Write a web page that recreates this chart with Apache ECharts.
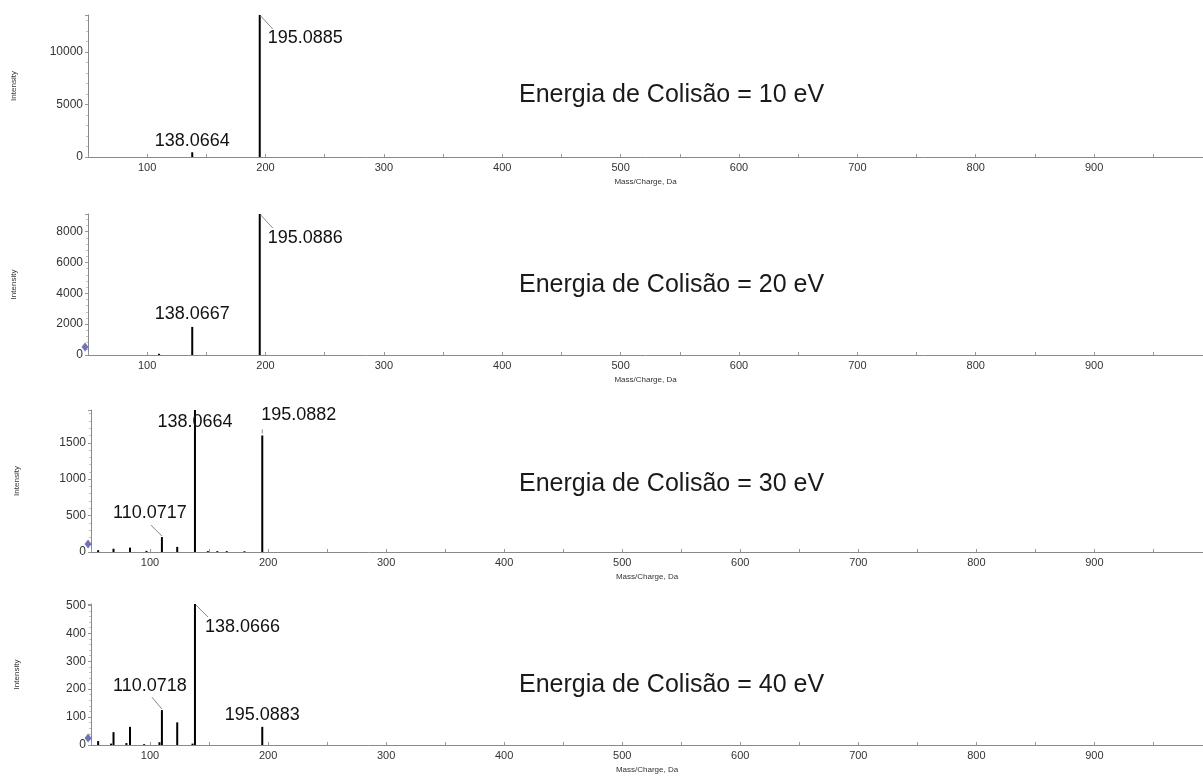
<!DOCTYPE html>
<html>
<head>
<meta charset="utf-8">
<script src="https://cdn.jsdelivr.net/npm/echarts@6/dist/echarts.min.js"></script>
<style>
html,body{margin:0;padding:0;background:#fff;}
#chart{width:1203px;height:778px;}
</style>
</head>
<body>
<div id="chart"></div>
<script>
// ---- Data ----
const energies = ['10', '20', '30', '40'];
const titleText = e => 'Energia de Colisão = ' + e + ' eV';

const mz10 = [138.0664, 195.0885];
const int10 = [450, 13500];
const mz20 = [110.07, 138.0667, 195.0886];
const int20 = [80, 1820, 9150];
const mz30 = [56.05, 69.07, 83.06, 97.0, 110.0717, 123.04, 138.0664, 149.0, 157.0, 165.0, 180.0, 195.0882];
const int30 = [25, 45, 60, 15, 205, 70, 1950, 12, 12, 12, 10, 1600];
const mz40 = [56.05, 67.0, 69.07, 80.0, 83.06, 95.0, 108.0, 110.0718, 123.04, 136.0, 138.0666, 195.0883];
const int40 = [14, 5, 46, 7, 65, 3, 10, 125, 81, 5, 505, 65];

// labelled peaks (m/z)
const ann10 = [138.0664, 195.0885];
const ann20 = [138.0667, 195.0886];
const ann30 = [110.0717, 138.0664, 195.0882];
const ann40 = [110.0718, 138.0666, 195.0883];

// precursor marker (blue diamond)
const marker20 = [[47.5, 520]];
const marker30 = [[47.5, 110]];
const marker40 = [[47.5, 25]];

const yIntervals = [5000, 2000, 500, 100];
const xTickValues = [100, 200, 300, 400, 500, 600, 700, 800, 900];
const xMin = 50, xMax = 992;

// ---- Layout / style ----
const grids = [
  {left: 88, right: 0, top: 15, height: 142},
  {left: 88, right: 0, top: 214, height: 141},
  {left: 91, right: 0, top: 410, height: 142},
  {left: 91, right: 0, top: 604, height: 141}
];
const titleTops = [78, 268, 467, 668];
const annLayout = [
  [ {dx: 0, dy: -11, align: 'center'},
    {dx: 8, dy: 23, align: 'left', line: [1, 1, 13, 14]} ],
  [ {dx: 0, dy: -13, align: 'center'},
    {dx: 8, dy: 24, align: 'left', line: [1, 1, 13, 14]} ],
  [ {dx: -12, dy: -24, align: 'center', line: [-11, -12, 0, -1]},
    {dx: 0, dy: 12, align: 'center'},
    {dx: -1, dy: -20, align: 'left', line: [0, -6, 0, -2]} ],
  [ {dx: -12, dy: -24, align: 'center', line: [-10, -13, 0, -1]},
    {dx: 10, dy: 23, align: 'left', line: [1, 1, 13, 13]},
    {dx: 0, dy: -12, align: 'center'} ]
];

const mzs = [mz10, mz20, mz30, mz40];
const ints = [int10, int20, int30, int40];
const anns = [ann10, ann20, ann30, ann40];
const markers = [null, marker20, marker30, marker40];

const FONT = '"Liberation Sans", Arial, sans-serif';

const chart = echarts.init(document.getElementById('chart'), null, {renderer: 'canvas'});

const option = {
  animation: false,
  backgroundColor: '#fff',
  title: energies.map((e, i) => ({
    text: titleText(e),
    left: 514,
    top: titleTops[i],
    textStyle: {fontFamily: FONT, fontSize: 25, fontWeight: 'normal', color: '#1a1a1a'}
  })),
  grid: grids,
  xAxis: grids.map((g, i) => ({
    gridIndex: i,
    type: 'value',
    min: xMin,
    max: xMax,
    interval: 50,
    name: 'Mass/Charge, Da',
    nameLocation: 'middle',
    nameGap: 21,
    nameTextStyle: {fontFamily: FONT, fontSize: 8, color: '#333'},
    axisLine: {lineStyle: {color: '#8a8a8a', width: 1}},
    axisTick: {inside: true, length: 3, lineStyle: {color: '#999'}},
    axisLabel: {
      fontFamily: FONT, fontSize: 11, color: '#333', margin: 5,
      showMaxLabel: false,
      formatter: v => (xTickValues.indexOf(v) >= 0 ? String(v) : '')
    },
    splitLine: {show: false}
  })),
  yAxis: grids.map((g, i) => ({
    gridIndex: i,
    type: 'value',
    min: 0,
    max: Math.max.apply(null, ints[i]),
    interval: yIntervals[i],
    name: 'Intensity',
    nameLocation: 'middle',
    nameGap: 70,
    nameTextStyle: {fontFamily: FONT, fontSize: 8, color: '#333'},
    axisLine: {show: true, lineStyle: {color: '#8a8a8a', width: 1}},
    axisTick: {show: true, length: 3, lineStyle: {color: '#999'}},
    minorTick: {show: true, splitNumber: 5, length: 2, lineStyle: {color: '#c4c4c4'}},
    axisLabel: {fontFamily: FONT, fontSize: 12, color: '#333', margin: 5, showMaxLabel: false,
      formatter: v => String(v)},
    splitLine: {show: false}
  })),
  series: []
};

for (let i = 0; i < 4; i++) {
  // stems
  option.series.push({
    type: 'custom',
    xAxisIndex: i, yAxisIndex: i,
    data: mzs[i].map((m, k) => [m, ints[i][k]]),
    renderItem: (params, api) => {
      const base = api.coord([api.value(0), 0]);
      const top = api.coord([api.value(0), api.value(1)]);
      return {
        type: 'line',
        shape: {x1: base[0], y1: base[1], x2: top[0], y2: top[1]},
        style: {stroke: '#000', lineWidth: 2}
      };
    },
    clip: true,
    z: 3
  });
  // annotations
  const annData = anns[i].map(m => {
    const k = mzs[i].indexOf(m);
    return [m, ints[i][k]];
  });
  const lay = annLayout[i];
  option.series.push({
    type: 'custom',
    xAxisIndex: i, yAxisIndex: i,
    data: annData,
    clip: false,
    z: 5,
    renderItem: (params, api) => {
      const p = api.coord([api.value(0), api.value(1)]);
      const L = lay[params.dataIndex];
      const children = [{
        type: 'text',
        x: p[0] + L.dx, y: p[1] + L.dy,
        style: {
          text: api.value(0).toFixed(4),
          font: '18px ' + FONT,
          fill: '#111',
          textAlign: L.align,
          textVerticalAlign: 'middle'
        }
      }];
      if (L.line) {
        children.push({
          type: 'line',
          shape: {x1: p[0] + L.line[0], y1: p[1] + L.line[1], x2: p[0] + L.line[2], y2: p[1] + L.line[3]},
          style: {stroke: '#888', lineWidth: 1}
        });
      }
      return {type: 'group', children: children};
    }
  });
  if (markers[i]) {
    option.series.push({
      type: 'scatter',
      xAxisIndex: i, yAxisIndex: i,
      data: markers[i],
      symbol: 'diamond',
      symbolSize: [7, 9],
      itemStyle: {color: '#4b4fb0'},
      clip: false,
      silent: true,
      z: 6
    });
  }
}

chart.setOption(option);
</script>
</body>
</html>
